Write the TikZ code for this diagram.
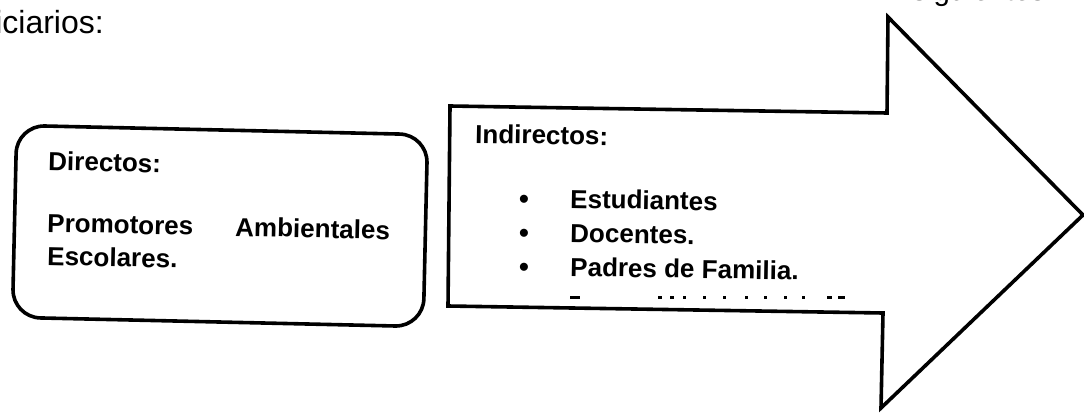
\documentclass[tikz,border=0pt]{standalone}
\usepackage{fontspec}
\setmainfont{Liberation Sans}
\begin{document}
\begin{tikzpicture}[x=1pt,y=-1pt,
  btext/.style={font=\fontsize{26}{31}\selectfont\bfseries, inner sep=0pt, anchor=base west},
  ptext/.style={font=\fontsize{32}{37}\selectfont, inner sep=0pt},
  shapeline/.style={draw=black, line width=3.6pt, fill=white},
  bul/.style={font=\fontsize{28}{31}\selectfont\bfseries, inner sep=0pt, anchor=base}]
\useasboundingbox (0,0) rectangle (1084,415);
\fill[white] (0,0) rectangle (1084,415);
% partial lines of the surrounding paragraph
\node[ptext, anchor=base east] (lead) at (104,33) {beneficiarios:};
\node[ptext, anchor=base west, font=\fontsize{29.5}{35}\selectfont] (tail) at (912,0) {siguientes};
% rounded box
\node[shapeline, rounded corners=28pt, minimum width=411pt, minimum height=192pt, rotate=-1.3] (box) at (220,226) {};
\node[btext, rotate=-1.3] (dir) at (48,170) {Directos:};
\node[btext, rotate=-1.3] (prom) at (47,232) {Promotores};
\node[btext, rotate=-1.3] (amb) at (235,236) {Ambientales};
\node[btext, rotate=-1.3] (esc) at (47,265) {Escolares.};
% arrow
\coordinate (a1) at (450,106);
\coordinate (a2) at (887,113);
\coordinate (a3) at (888,17);
\coordinate (a4) at (1083,215);
\coordinate (a5) at (881,408);
\coordinate (a6) at (883,313);
\coordinate (a7) at (448,306);
\draw[shapeline, line join=miter] (a1) -- (a2) -- (a3) -- (a4) -- (a5) -- (a6) -- (a7) -- cycle;
\node[btext, rotate=-1] (ind) at (475,143) {Indirectos:};
\node[bul] (b1) at (524,208) {•};
\node[bul] (b2) at (524,242) {•};
\node[bul] (b3) at (524,276) {•};
\node[btext, rotate=-1] (est) at (570,208) {Estudiantes};
\node[btext, rotate=-1] (doc) at (570,242) {Docentes.};
\node[btext, rotate=-1] (pad) at (570,276) {Padres de Familia.};
% remnants of a cut-off fourth line
\foreach \xa/\xb in {570/580, 658/662, 670/674, 683/686, 703/706, 723/726, 745/748, 764/767, 784/787, 802/805, 827/832, 838/845}
  \fill (\xa,296) rectangle (\xb,298.5);
\end{tikzpicture}
\end{document}
